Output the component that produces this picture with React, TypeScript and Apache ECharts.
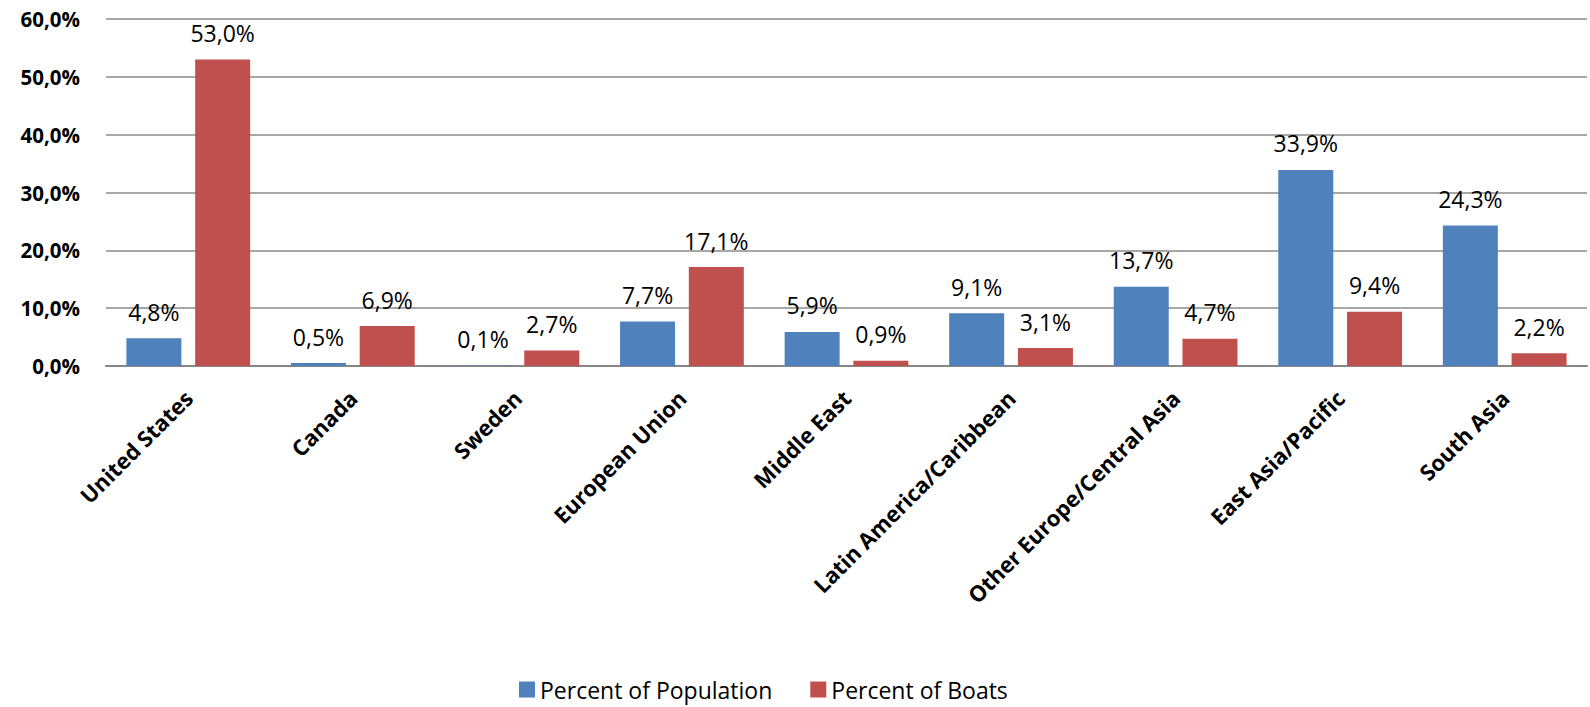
import React, { useEffect, useRef } from "react";
import * as echarts from "echarts";

const categories = [
  "United States",
  "Canada",
  "Sweden",
  "European Union",
  "Middle East",
  "Latin America/Caribbean",
  "Other Europe/Central Asia",
  "East Asia/Pacific",
  "South Asia",
];
const percentOfPopulation = [4.8, 0.5, 0.1, 7.7, 5.9, 9.1, 13.7, 33.9, 24.3];
const percentOfBoats = [53.0, 6.9, 2.7, 17.1, 0.9, 3.1, 4.7, 9.4, 2.2];
const yTicks = { min: 0, max: 60, interval: 10 };

const FONT = "'Open Sans', sans-serif";
const fmt = (v: number) => v.toFixed(1).replace(".", ",") + "%";

export default function App() {
  const ref = useRef<HTMLDivElement>(null);
  useEffect(() => {
    if (!ref.current) return;
    const chart = echarts.init(ref.current, undefined, { renderer: "svg" });
    const label = {
      show: true,
      position: "top" as const,
      distance: 15,
      formatter: (p: any) => fmt(p.value),
      fontFamily: FONT,
      fontSize: 23,
      color: "#000",
    };
    chart.setOption({
      animation: false,
      textStyle: { fontFamily: FONT },
      grid: { left: 106, right: 3, top: 19, bottom: 341, containLabel: false },
      legend: {
        bottom: 1,
        left: 514,
        icon: "rect",
        itemWidth: 16,
        itemHeight: 16,
        itemGap: 38,
        itemStyle: { borderWidth: 0 },
        textStyle: { fontFamily: FONT, fontSize: 23, color: "#000" },
        data: ["Percent of Population", "Percent of Boats"],
      },
      xAxis: {
        type: "category",
        data: categories,
        axisTick: { show: false },
        axisLine: { lineStyle: { color: "#868686", width: 2 } },
        axisLabel: {
          rotate: 45,
          interval: 0,
          margin: 28,
          fontFamily: FONT,
          fontSize: 22,
          fontWeight: "bold",
          color: "#000",
        },
      },
      yAxis: {
        type: "value",
        min: yTicks.min,
        max: yTicks.max,
        interval: yTicks.interval,
        axisLine: { show: false },
        axisTick: { show: false },
        splitLine: { lineStyle: { color: "#8a8a8a", width: 1.5 } },
        axisLabel: {
          margin: 26,
          formatter: (v: number) => fmt(v),
          fontFamily: FONT,
          fontSize: 20.5,
          fontWeight: "bold",
          color: "#000",
        },
      },
      series: [
        {
          name: "Percent of Population",
          type: "bar",
          data: percentOfPopulation,
          barWidth: 55,
          barGap: "25%",
          itemStyle: { color: "#4F81BD" },
          label,
        },
        {
          name: "Percent of Boats",
          type: "bar",
          data: percentOfBoats,
          barWidth: 55,
          barGap: "25%",
          itemStyle: { color: "#C0504D" },
          label,
        },
      ],
    });
    return () => chart.dispose();
  }, []);
  return (
    <div
      ref={ref}
      style={{ position: "absolute", left: 0, top: 0, width: 1590, height: 707 }}
    />
  );
}
